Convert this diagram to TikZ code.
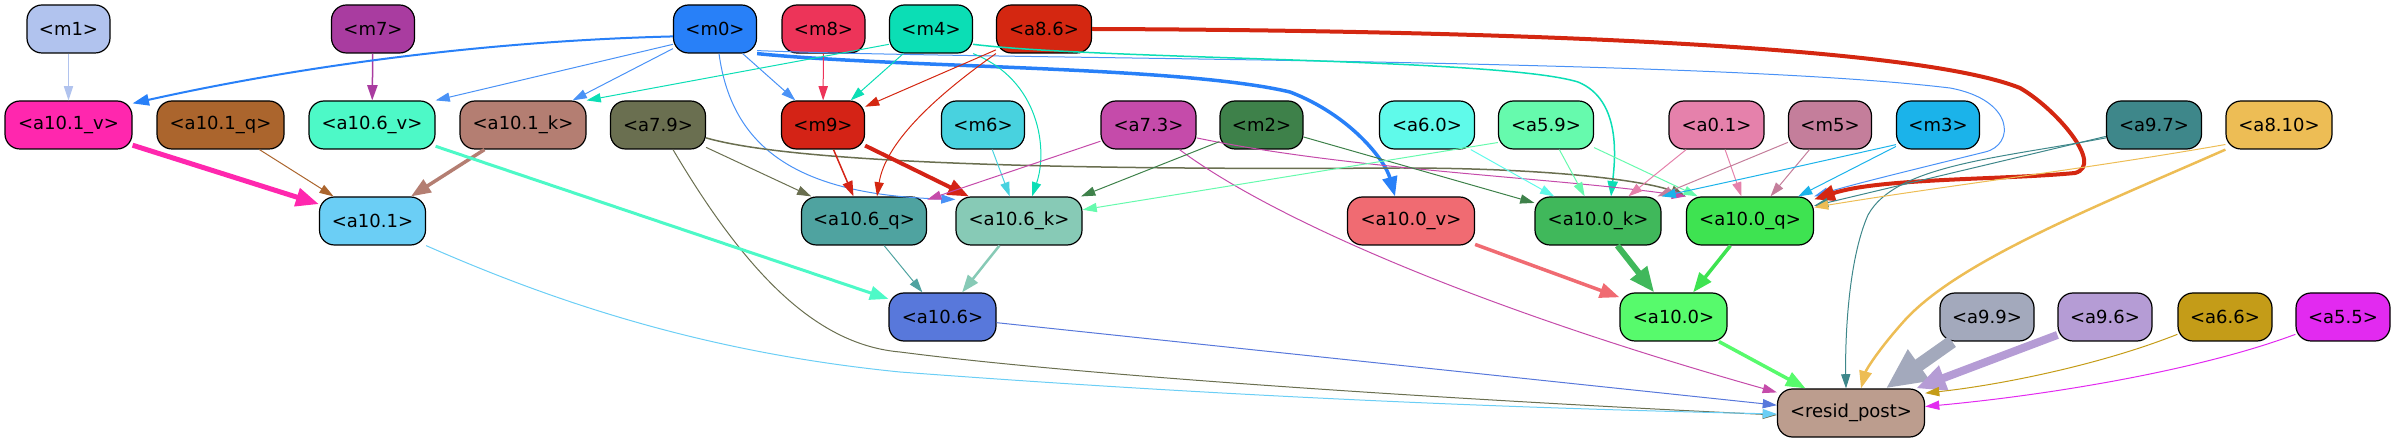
\documentclass[tikz,border=0pt]{standalone}
\usepackage{fontspec}
\setmainfont{DejaVu Sans}
\usetikzlibrary{arrows.meta}
\definecolor{cm1}{HTML}{B1C3EE}
\definecolor{cm7}{HTML}{A93CA0}
\definecolor{cm0}{HTML}{2880F8}
\definecolor{cm0l}{HTML}{4A92F6}
\definecolor{cm8}{HTML}{ED3459}
\definecolor{cm4}{HTML}{0BDEB5}
\definecolor{ca86}{HTML}{D42711}
\definecolor{ca101v}{HTML}{FF27AE}
\definecolor{ca101q}{HTML}{AB652D}
\definecolor{ca106v}{HTML}{4DF9C7}
\definecolor{ca101k}{HTML}{B47E72}
\definecolor{ca79}{HTML}{6A6F50}
\definecolor{cm9}{HTML}{D42316}
\definecolor{cm6}{HTML}{48D2DF}
\definecolor{ca73}{HTML}{C54BAA}
\definecolor{cm2}{HTML}{3E814A}
\definecolor{ca60}{HTML}{5FFAEA}
\definecolor{ca59}{HTML}{66FAAD}
\definecolor{ca01}{HTML}{E581AB}
\definecolor{cm5}{HTML}{C47E9B}
\definecolor{cm3}{HTML}{1BB3EA}
\definecolor{ca97}{HTML}{3E878A}
\definecolor{ca810}{HTML}{EDBD55}
\definecolor{ca101}{HTML}{6BCEF5}
\definecolor{ca106q}{HTML}{4FA3A0}
\definecolor{ca106k}{HTML}{87CAB6}
\definecolor{ca100v}{HTML}{F06B72}
\definecolor{ca100k}{HTML}{40B85B}
\definecolor{ca100q}{HTML}{3EE351}
\definecolor{ca106}{HTML}{5878DB}
\definecolor{ca100}{HTML}{57FA6C}
\definecolor{ca99}{HTML}{A3A9BC}
\definecolor{ca96}{HTML}{B59CD5}
\definecolor{ca66}{HTML}{C49C18}
\definecolor{ca55}{HTML}{E22AF0}
\definecolor{cres}{HTML}{BC9D8E}
\begin{document}
\begin{tikzpicture}[x=1pt,y=-1pt,
  nbox/.style={draw=black, line width=1.2pt, rounded corners=15pt, minimum height=48pt, inner sep=0pt, font=\fontsize{18}{20}\selectfont},
  earr/.style={-{Triangle[length=12pt 2.2,width=7pt 2.2]}, line width=1pt}]
\useasboundingbox (0,0) rectangle (2396,443);
% row 1
\node[nbox, fill=cm1, minimum width=83pt] (m1) at (68.5,29) {<m1>};
\node[nbox, fill=cm7, minimum width=83pt] (m7) at (373,29) {<m7>};
\node[nbox, fill=cm0, minimum width=83pt] (m0) at (715,29) {<m0>};
\node[nbox, fill=cm8, minimum width=83pt] (m8) at (823.5,29) {<m8>};
\node[nbox, fill=cm4, minimum width=83pt] (m4) at (931,29) {<m4>};
\node[nbox, fill=ca86, minimum width=95pt] (a86) at (1044,29) {<a8.6>};
% row 2
\node[nbox, fill=ca101v, minimum width=127pt] (a101v) at (68.5,125) {<a10.1\_v>};
\node[nbox, fill=ca101q, minimum width=127pt] (a101q) at (220.5,125) {<a10.1\_q>};
\node[nbox, fill=ca106v, minimum width=126pt] (a106v) at (372,125) {<a10.6\_v>};
\node[nbox, fill=ca101k, minimum width=126pt] (a101k) at (523,125) {<a10.1\_k>};
\node[nbox, fill=ca79, minimum width=95pt] (a79) at (658,125) {<a7.9>};
\node[nbox, fill=cm9, minimum width=83pt] (m9) at (823,125) {<m9>};
\node[nbox, fill=cm6, minimum width=83pt] (m6) at (983,125) {<m6>};
\node[nbox, fill=ca73, minimum width=95pt] (a73) at (1148.5,125) {<a7.3>};
\node[nbox, fill=cm2, minimum width=83pt] (m2) at (1261.5,125) {<m2>};
\node[nbox, fill=ca60, minimum width=95pt] (a60) at (1427,125) {<a6.0>};
\node[nbox, fill=ca59, minimum width=95pt] (a59) at (1546,125) {<a5.9>};
\node[nbox, fill=ca01, minimum width=95pt] (a01) at (1716.5,125) {<a0.1>};
\node[nbox, fill=cm5, minimum width=83pt] (m5) at (1830,125) {<m5>};
\node[nbox, fill=cm3, minimum width=83pt] (m3) at (1938,125) {<m3>};
\node[nbox, fill=ca97, minimum width=95pt] (a97) at (2154,125) {<a9.7>};
\node[nbox, fill=ca810, minimum width=106pt] (a810) at (2279,125) {<a8.10>};
% row 3
\node[nbox, fill=ca101, minimum width=106pt] (a101) at (372.5,221) {<a10.1>};
\node[nbox, fill=ca106q, minimum width=125pt] (a106q) at (864,221) {<a10.6\_q>};
\node[nbox, fill=ca106k, minimum width=126pt] (a106k) at (1019,221) {<a10.6\_k>};
\node[nbox, fill=ca100v, minimum width=127pt] (a100v) at (1411,221) {<a10.0\_v>};
\node[nbox, fill=ca100k, minimum width=126pt] (a100k) at (1598,221) {<a10.0\_k>};
\node[nbox, fill=ca100q, minimum width=127pt] (a100q) at (1750,221) {<a10.0\_q>};
% row 4
\node[nbox, fill=ca106, minimum width=107pt] (a106) at (942.5,317) {<a10.6>};
\node[nbox, fill=ca100, minimum width=107pt] (a100) at (1673.5,317) {<a10.0>};
\node[nbox, fill=ca99, minimum width=94pt] (a99) at (1987,317) {<a9.9>};
\node[nbox, fill=ca96, minimum width=94pt] (a96) at (2105,317) {<a9.6>};
\node[nbox, fill=ca66, minimum width=94pt] (a66) at (2225,317) {<a6.6>};
\node[nbox, fill=ca55, minimum width=94pt] (a55) at (2343,317) {<a5.5>};
% row 5
\node[nbox, fill=cres, minimum width=147pt] (resid) at (1851,413) {<resid\_post>};

% edges
\draw[earr, draw=cm1] (m1) -- (a101v);
\draw[earr, draw=cm7, line width=1.5pt] (m7) -- (a106v);
\draw[earr, draw=cm0, line width=2pt] (m0.190) .. controls (450,42) and (260,75) .. ([yshift=-3pt]a101v.north east);
\draw[earr, draw=cm0l] (m0.200) -- (a106v.north east);
\draw[earr, draw=cm0l] (m0.205) -- ([xshift=-14pt]a101k.north east);
\draw[earr, draw=cm0l] (m0) -- (m9);
\draw[earr, draw=cm0l] ([xshift=4pt]m0.south) .. controls (732,150) and (800,195) .. ([yshift=-3pt]a106k.north west);
\draw[earr, draw=cm0, line width=3.5pt] (m0.south east) .. controls (900,68) and (1180,66) .. (1290,92) .. controls (1350,115) and (1385,160) .. ([xshift=-16pt]a100v.north);
\draw[earr, draw=cm0l] ([yshift=3pt]m0.south east) .. controls (1000,60) and (1700,58) .. (1950,88) .. controls (2015,100) and (2015,145) .. (1985,152) .. controls (1920,168) and (1850,185) .. (a100q.north east);
\draw[earr, draw=cm8] (m8) -- (m9);
\draw[earr, draw=cm4] (m4) -- (m9);
\draw[earr, draw=cm4] (m4.200) -- (a101k.north east);
\draw[earr, draw=cm4] (m4.south east) .. controls (1040,80) and (1048,150) .. ([xshift=13pt]a106k.north);
\draw[earr, draw=cm4, line width=1.5pt] (m4.-20) .. controls (1100,60) and (1500,58) .. (1578,82) .. controls (1622,100) and (1615,160) .. ([xshift=13pt]a100k.north);
\draw[earr, draw=ca86] (a86) -- (m9);
\draw[earr, draw=ca86] (a86.south west) .. controls (930,100) and (885,145) .. ([xshift=13pt]a106q.north);
\draw[earr, draw=ca86, line width=4pt] (a86.east) .. controls (1400,30) and (1900,40) .. (2020,88) .. controls (2055,108) and (2105,165) .. (2075,173) .. controls (2000,180) and (1880,178) .. ([yshift=-3pt]a100q.north east);
\draw[earr, draw=ca79] (a79) -- (a106q);
\draw[earr, draw=ca79, line width=1.5pt] (a79.-15) .. controls (800,165) and (1100,170) .. (1400,168) .. controls (1560,168) and (1650,182) .. (a100q.north west);
\draw[earr, draw=ca79] ([xshift=15pt]a79.south) .. controls (750,280) and (820,345) .. (900,352) .. controls (1100,378) and (1500,402) .. ([yshift=-2pt]resid.west);
\draw[earr, draw=cm9, line width=1.5pt] (m9) -- (a106q);
\draw[earr, draw=cm9, line width=4pt] (m9) -- (a106k);
\draw[earr, draw=cm6] (m6) -- (a106k);
\draw[earr, draw=ca73] (a73) -- (a106q);
\draw[earr, draw=ca73] ([xshift=31pt]a73.south) .. controls (1260,210) and (1450,300) .. ([yshift=-4pt]resid.north west);
\draw[earr, draw=ca73] (a73.-15) .. controls (1350,170) and (1560,178) .. (a100q.north west);
\draw[earr, draw=cm2] (m2) -- (a106k);
\draw[earr, draw=cm2] (m2) -- (a100k);
\draw[earr, draw=ca60] (a60) -- (a100k);
\draw[earr, draw=ca59] (a59.200) -- (a106k.10);
\draw[earr, draw=ca59] (a59) -- (a100k);
\draw[earr, draw=ca59] (a59) -- (a100q);
\draw[earr, draw=ca01] (a01) -- (a100k);
\draw[earr, draw=ca01] (a01) -- (a100q);
\draw[earr, draw=cm5] (m5) -- (a100k);
\draw[earr, draw=cm5] (m5) -- (a100q);
\draw[earr, draw=cm3] (m3.205) .. controls (1760,175) .. (a100k.north east);
\draw[earr, draw=cm3] (m3) -- (a100q);
\draw[earr, draw=ca97] (a97) -- (a100q);
\draw[earr, draw=ca97] (a97.195) .. controls (2000,158) and (1895,165) .. (1868,215) .. controls (1848,260) and (1845,340) .. ([xshift=-5pt]resid.north);
\draw[earr, draw=ca810] (a810.200) .. controls (2080,170) and (1950,185) .. (a100q.12);
\draw[earr, draw=ca810, line width=2.5pt] (a810.south west) .. controls (2100,205) and (1960,260) .. (1905,320) .. controls (1878,350) and (1866,370) .. ([xshift=10pt]resid.north);
\draw[earr, draw=ca101v, line width=5pt] (a101v) -- (a101);
\draw[earr, draw=ca101q] (a101q) -- (a101);
\draw[earr, draw=ca101k, line width=3.5pt] (a101k) -- (a101);
\draw[earr, draw=ca106v, line width=3pt] (a106v) -- (a106);
\draw[earr, draw=ca106q] (a106q) -- (a106);
\draw[earr, draw=ca106k, line width=2.5pt] (a106k) -- (a106);
\draw[earr, draw=ca101] (a101.south east) .. controls (550,300) and (700,352) .. (900,372) .. controls (1300,402) and (1600,410) .. ([yshift=-1pt]resid.west);
\draw[earr, draw=ca106] (a106) -- (resid);
\draw[earr, draw=ca100v, line width=3.5pt] (a100v) -- (a100);
\draw[earr, draw=ca100k, line width=6pt] (a100k) -- (a100);
\draw[earr, draw=ca100q, line width=3.5pt] (a100q) -- (a100);
\draw[earr, draw=ca100, line width=3.5pt] (a100) -- (resid);
\draw[earr, draw=ca99, line width=13pt] (a99) -- (resid);
\draw[earr, draw=ca96, line width=8pt] (a96) -- (resid);
\draw[earr, draw=ca66] (a66.200) .. controls (2100,365) and (2000,385) .. (resid.15);
\draw[earr, draw=ca55] (a55.200) .. controls (2200,370) and (2050,395) .. (resid.5);
\end{tikzpicture}
\end{document}
